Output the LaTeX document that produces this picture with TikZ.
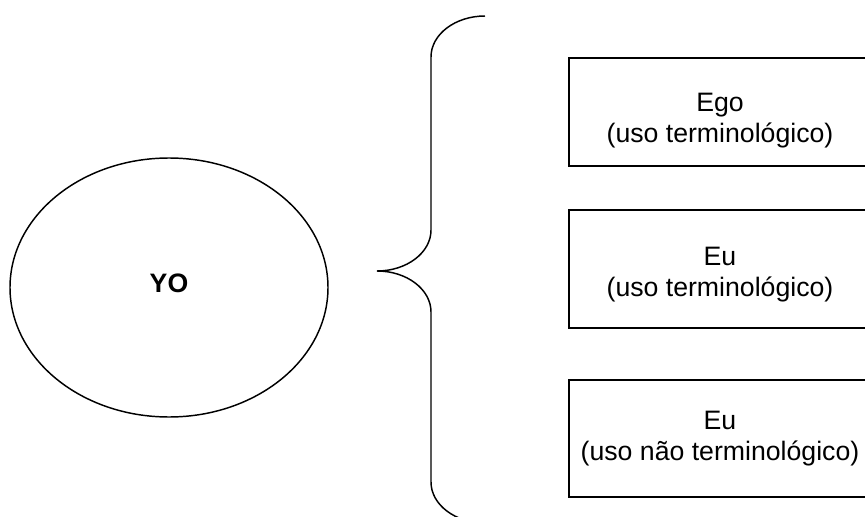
\documentclass[tikz,border=0pt]{standalone}
\usepackage{fontspec}
\usepackage{tikz}
\usetikzlibrary{shapes.geometric}
\setmainfont{Liberation Sans}

\tikzset{
  termbox/.style={draw=black,line width=1pt,minimum width=226.5pt,align=center,inner sep=0pt,font=\fontsize{20}{23}\selectfont},
  selfnode/.style={draw=black,ellipse,line width=1.1pt,minimum width=238.5pt,minimum height=194.25pt,inner sep=0pt,text depth=7pt,font=\fontsize{20}{23}\selectfont\bfseries}
}

\begin{document}
\begin{tikzpicture}[x=0.75pt,y=-0.75pt]
\useasboundingbox (0,0) rectangle (865,517);
\clip (0,0) rectangle (865,517);
% the self, on the left
\node[selfnode] (yo) at (169,287.5) {YO};
% the three uses, on the right
\node[termbox,minimum height=81pt,text height=49.5pt] (ego) at (720,112) {Ego\\(uso terminológico)};
\node[termbox,minimum height=88.5pt,text height=45pt] (eu) at (720,269) {Eu\\(uso terminológico)};
\node[termbox,minimum height=87.75pt] (eunt) at (720,438.5) {Eu\\(uso não terminológico)};
% curly brace between them
\draw[line width=1.1pt]
  (485,16) arc[start angle=270,end angle=180,x radius=54,y radius=41]
  -- (431,230) arc[start angle=0,end angle=90,x radius=54,y radius=41]
  arc[start angle=270,end angle=360,x radius=54,y radius=41]
  -- (431,482) arc[start angle=180,end angle=90,x radius=54,y radius=41];
\end{tikzpicture}
\end{document}
